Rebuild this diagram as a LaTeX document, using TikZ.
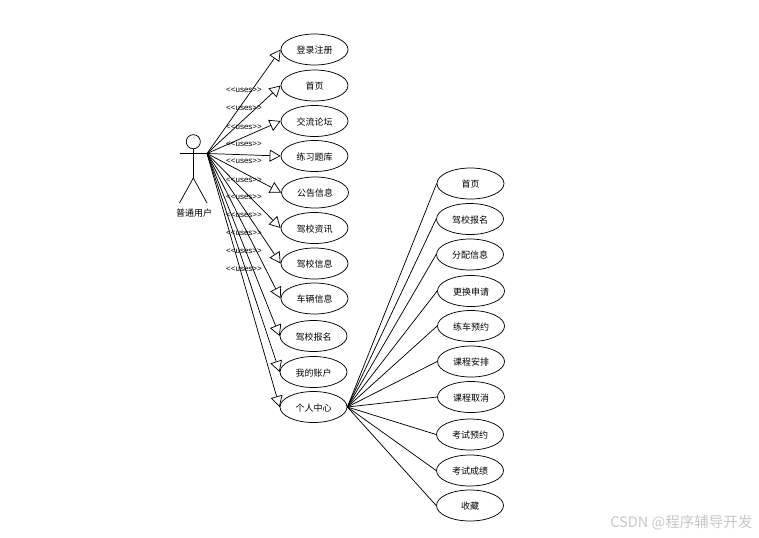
\documentclass[tikz,border=0pt]{standalone}
\usepackage{fontspec}
\setmainfont{Liberation Sans}
\newfontfamily\cjk{Noto Sans CJK SC}
\usetikzlibrary{shapes.geometric,arrows.meta}
\tikzset{
  usecase/.style={draw=black,fill=white,ellipse,inner sep=0pt,line width=0.55pt,minimum width=50.25pt,minimum height=23.25pt,text height=6pt,text depth=0pt,font=\cjk\fontsize{6.75}{8}\selectfont},
  actorpart/.style={draw=black,line width=0.55pt},
  actorlabel/.style={inner sep=0pt,font=\cjk\fontsize{6.75}{8}\selectfont},
  useslabel/.style={inner sep=0pt,font=\fontsize{6}{7}\selectfont},
  generalize/.style={draw=black,line width=0.55pt,-{Triangle[open,fill=white,length=8.25pt,width=9pt,line width=0.55pt]}},
  assoc/.style={draw=black,line width=0.55pt},
  watermark/.style={inner sep=0pt,text=black!22,font=\cjk\fontsize{10.9}{13}\selectfont}
}
\begin{document}
\begin{tikzpicture}[x=0.75pt,y=-0.75pt]
\useasboundingbox (0,0) rectangle (759,537);
% actor
\draw[actorpart] (193.3,141.7) circle[radius=5.3pt];
\draw[actorpart] (193.3,148.7) -- (193.3,178);
\coordinate (hand) at (207,153.5);
\draw[actorpart] (180,153.5) -- (hand);
\draw[actorpart] (179.5,203) -- (193.3,178) -- (207,203);
\node[actorlabel] (actorname) at (194,213.5) {普通用户};
% uses labels
\foreach \i/\yy in {1/90,2/108.5,3/127,4/144,5/161.5,6/180,7/197.5,8/215.5,9/233.5,10/251.5,11/269.5}
  \node[useslabel] (uses\i) at (244,\yy) {<{}<uses>{}>};
% left use cases
\foreach \n/\xx/\yy/\t in {
 a1/314.5/49.5/登录注册,
 a2/314.5/85.5/首页,
 a3/314.5/121/交流论坛,
 a4/314.5/156/练习题库,
 a5/315/192.5/公告信息,
 a6/314.5/228/驾校资讯,
 a7/314.5/263.5/驾校信息,
 a8/314.5/298.5/车辆信息,
 a9/313.5/336/驾校报名,
 a10/313.5/372/我的账户,
 a11/313.5/407/个人中心}
  \node[usecase] (\n) at (\xx,\yy) {\t};
\foreach \n in {a1,a2,a3,a4,a5,a6,a7,a8,a9,a10,a11}
  \draw[generalize] (hand) -- (\n.west);
% right use cases
\foreach \n/\xx/\yy/\t in {
 b1/470.5/183.5/首页,
 b2/470/219/驾校报名,
 b3/470/254.5/分配信息,
 b4/471/291/更换申请,
 b5/471/326/练车预约,
 b6/471/361.5/课程安排,
 b7/471/397/课程取消,
 b8/470/434.5/考试预约,
 b9/470/470.5/考试成绩,
 b10/470/505.5/收藏}
  \node[usecase] (\n) at (\xx,\yy) {\t};
\foreach \n in {b1,b2,b3,b4,b5,b6,b7,b8,b9,b10}
  \draw[assoc] (a11.east) -- (\n.west);
% watermark
\node[watermark,anchor=west] (wm) at (610,523) {CSDN @程序辅导开发};
\end{tikzpicture}
\end{document}
